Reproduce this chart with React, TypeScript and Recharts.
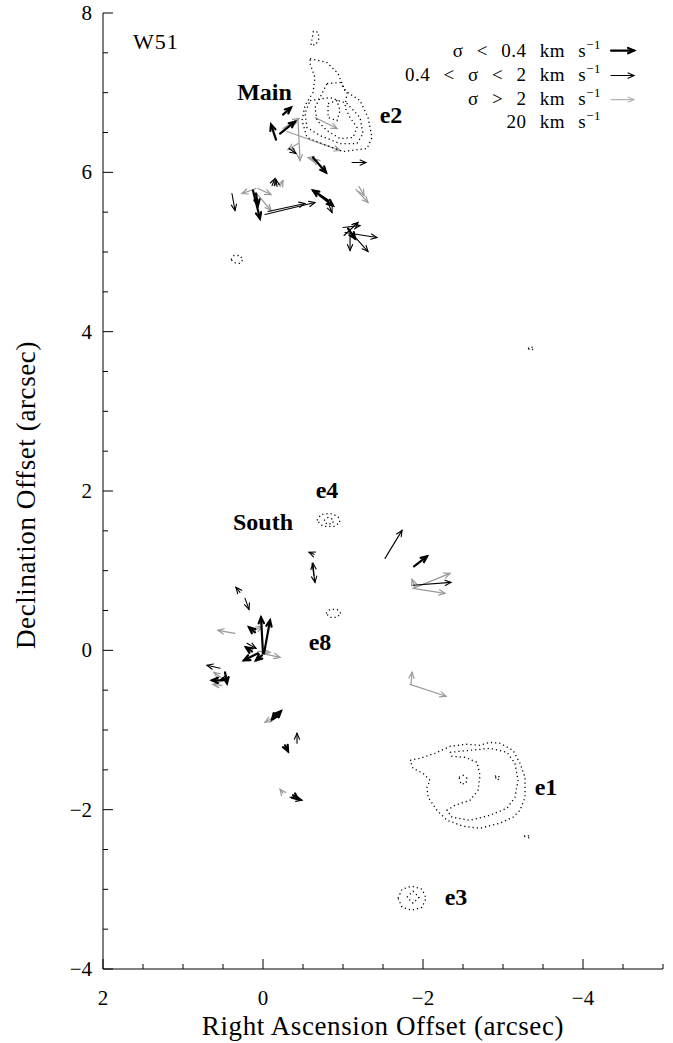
import React from 'react';
import { ScatterChart, Scatter, XAxis, YAxis, ReferenceLine, Label } from 'recharts';

const SERIF = '"Liberation Serif", "DejaVu Serif", serif';

// Axis ticks (arcsec)
const raTicks = [2, 1.5, 1, 0.5, 0, -0.5, -1, -1.5, -2, -2.5, -3, -3.5, -4, -4.5, -5];
const decTicks = [-4, -3.5, -3, -2.5, -2, -1.5, -1, -0.5, 0, 0.5, 1, 1.5, 2, 2.5, 3, 3.5, 4, 4.5, 5, 5.5, 6, 6.5, 7, 7.5, 8];
const raLabelled = [2, 0, -2, -4];
const decLabelled = [-4, -2, 0, 2, 4, 6, 8];

type Vec = [number, number, number, number]; // RA0, Dec0, RA1, Dec1 (arcsec)

// sigma < 0.4 km/s
const arrowsLow: Vec[] = [
  [-0.25, 6.725, -0.35, 6.813],
  [-0.163, 6.411, -0.1, 6.6],
  [-0.213, 6.487, -0.4, 6.637],
  [-0.625, 6.186, -0.788, 5.997],
  [0.125, 5.772, 0.038, 5.42],
  [0.088, 5.734, 0.063, 5.583],
  [-0.813, 5.646, -0.625, 5.772],
  [-0.713, 5.709, -0.875, 5.583],
  [-1.063, 5.295, -1.15, 5.169],
  [-1.888, 1.054, -2.05, 1.179],
  [0, -0.038, 0.025, 0.414],
  [-0.013, -0.038, -0.088, 0.376],
  [0.1, 0.226, 0.175, 0.289],
  [0.138, -0.013, 0.213, 0.038],
  [0.063, -0.038, 0.238, -0.125],
  [0.013, -0.063, 0.088, -0.125],
  [0.475, -0.276, 0.45, -0.414],
  [0.5, -0.376, 0.638, -0.376],
  [-0.125, -0.866, -0.225, -0.765],
  [-0.163, -0.803, -0.113, -0.866],
  [-0.275, -1.192, -0.313, -1.267],
  [-0.375, -1.819, -0.438, -1.869],
];

// 0.4 < sigma < 2 km/s
const arrowsMid: Vec[] = [
  [-0.325, 6.299, -0.413, 6.236],
  [-1.113, 6.123, -1.288, 6.123],
  [-0.113, 5.834, -0.15, 5.922],
  [-0.175, 5.822, -0.163, 5.91],
  [0.388, 5.734, 0.35, 5.521],
  [-0.025, 5.47, -0.65, 5.621],
  [-0.063, 5.508, -0.525, 5.609],
  [-0.8, 5.646, -0.863, 5.496],
  [-1.0, 5.307, -1.213, 5.332],
  [-1.025, 5.245, -1.425, 5.182],
  [-1.113, 5.232, -1.313, 5.006],
  [-1.013, 5.207, -1.188, 5.37],
  [-1.088, 5.195, -1.088, 5.019],
  [-1.525, 1.154, -1.738, 1.506],
  [-1.875, 0.816, -2.35, 0.853],
  [-0.638, 1.205, -0.575, 1.23],
  [-0.613, 1.092, -0.65, 0.853],
  [-0.638, 0.941, -0.625, 1.092],
  [0.288, 0.728, 0.338, 0.79],
  [0.225, 0.652, 0.175, 0.514],
  [0.2, 0.088, 0.088, 0.025],
  [0.538, -0.226, 0.7, -0.188],
  [0.425, -0.339, 0.525, -0.364],
  [-0.425, -1.167, -0.425, -1.041],
  [-0.338, -1.844, -0.488, -1.882],
];

// sigma > 2 km/s
const arrowsHigh: Vec[] = [
  [-0.25, 6.55, -0.45, 6.675],
  [-0.438, 6.65, -0.463, 6.148],
  [-0.3, 6.512, -0.963, 6.274],
  [-0.65, 6.688, -0.925, 6.55],
  [-0.438, 6.361, -0.313, 6.286],
  [-0.713, 6.148, -0.563, 6.186],
  [-0.688, 6.123, -0.613, 6.161],
  [-0.213, 5.822, -0.25, 5.897],
  [0.088, 5.797, 0.263, 5.734],
  [0.063, 5.797, -0.1, 5.721],
  [0.088, 5.746, -0.1, 5.521],
  [-1.163, 5.784, -1.313, 5.621],
  [-1.2, 5.822, -1.263, 5.709],
  [-1.875, 0.778, -2.338, 0.966],
  [-1.875, 0.778, -2.275, 0.715],
  [-1.9, 0.79, -1.863, 0.891],
  [-1.838, -0.427, -2.288, -0.577],
  [-1.85, -0.427, -1.863, -0.276],
  [0.35, 0.213, 0.563, 0.251],
  [0.1, 0.251, 0.013, 0.301],
  [0.013, -0.038, -0.213, -0.088],
  [0.063, -0.013, -0.088, -0.025],
  [0.513, -0.351, 0.613, -0.276],
  [0.513, -0.439, 0.625, -0.427],
  [-0.175, -0.816, -0.025, -0.903],
  [-0.25, -1.794, -0.213, -1.744],
];

// Legend: one 20 km/s arrow per dispersion class
const legendArrows: Vec[] = [
  [-4.35, 7.528, -4.6375, 7.528],
  [-4.35, 7.215, -4.6375, 7.215],
  [-4.35, 6.913, -4.6375, 6.913],
];
const legendText = ['σ < 0.4 km s', '0.4 < σ < 2 km s', 'σ > 2 km s', '20 km s'];
const legendDec = [7.453, 7.152, 6.851, 6.562];
const legendRa = -4.225;

// Continuum contours (RA, Dec in arcsec)
type Pt = [number, number];
const contours: Pt[][] = [
  // e2 complex
  [[-0.6, 7.6], [-0.63, 7.77], [-0.69, 7.76], [-0.7, 7.68], [-0.66, 7.6]],
  [[-0.588, 7.428], [-0.8, 7.378], [-0.938, 7.24], [-1.025, 7.026], [-1.213, 6.901], [-1.313, 6.688], [-1.363, 6.437], [-1.3, 6.299], [-1.0, 6.261], [-0.8, 6.336], [-0.55, 6.437], [-0.488, 6.65], [-0.525, 6.838], [-0.625, 7.001], [-0.65, 7.189], [-0.588, 7.365]],
  [[-0.588, 6.901], [-0.838, 6.939], [-1.05, 6.863], [-1.213, 6.688], [-1.25, 6.487], [-1.175, 6.361], [-0.963, 6.361], [-0.713, 6.462], [-0.55, 6.562], [-0.525, 6.738]],
  [[-0.8, 7.114], [-0.963, 7.127], [-1.05, 7.001], [-1.025, 6.813], [-1.088, 6.688], [-1.175, 6.562], [-1.125, 6.437], [-0.963, 6.424], [-0.8, 6.524], [-0.675, 6.65], [-0.65, 6.813], [-0.738, 6.989]],
  [[-0.813, 6.863], [-0.925, 6.901], [-0.963, 6.776], [-0.925, 6.65], [-0.813, 6.688]],
  // isolated knots
  [[0.4, 4.906], [0.363, 4.956], [0.288, 4.956], [0.25, 4.906], [0.288, 4.856], [0.363, 4.868]],
  [[-3.313, 3.789], [-3.35, 3.814], [-3.388, 3.789], [-3.35, 3.764]],
  // e4
  [[-0.675, 1.631], [-0.725, 1.706], [-0.838, 1.719], [-0.938, 1.681], [-0.963, 1.606], [-0.888, 1.556], [-0.75, 1.556]],
  [[-0.763, 1.631], [-0.813, 1.669], [-0.875, 1.644], [-0.875, 1.594], [-0.8, 1.581]],
  // knot near e8
  [[-0.788, 0.464], [-0.838, 0.514], [-0.925, 0.514], [-0.975, 0.464], [-0.925, 0.414], [-0.838, 0.414]],
  // e1
  [[-1.838, -1.38], [-1.963, -1.355], [-2.15, -1.292], [-2.338, -1.205], [-2.55, -1.179], [-2.713, -1.192], [-2.838, -1.154], [-2.963, -1.167], [-3.125, -1.255], [-3.213, -1.418], [-3.275, -1.593], [-3.275, -1.844], [-3.213, -2.008], [-3.125, -2.095], [-2.963, -2.17], [-2.713, -2.233], [-2.5, -2.208], [-2.3, -2.133], [-2.175, -2.008], [-2.063, -1.844], [-2.05, -1.719], [-2.088, -1.631], [-2.0, -1.543], [-1.875, -1.481]],
  [[-2.338, -1.28], [-2.588, -1.255], [-2.838, -1.23], [-3.05, -1.28], [-3.15, -1.418], [-3.188, -1.631], [-3.15, -1.844], [-3.05, -1.982], [-2.838, -2.07], [-2.588, -2.133], [-2.363, -2.095], [-2.3, -2.008], [-2.4, -1.945], [-2.588, -1.882], [-2.688, -1.757], [-2.713, -1.568], [-2.675, -1.405], [-2.525, -1.343], [-2.363, -1.33]],
  [[-2.45, -1.593], [-2.5, -1.568], [-2.55, -1.606], [-2.538, -1.669], [-2.475, -1.681]],
  [[-2.9, -1.581], [-2.938, -1.568], [-2.963, -1.606], [-2.925, -1.631]],
  [[-3.263, -2.333], [-3.313, -2.321], [-3.338, -2.358]],
  // e3
  [[-1.688, -3.112], [-1.738, -2.999], [-1.863, -2.961], [-1.988, -2.999], [-2.038, -3.112], [-1.988, -3.225], [-1.863, -3.262], [-1.738, -3.225]],
  [[-1.8, -3.099], [-1.875, -3.024], [-1.95, -3.099], [-1.875, -3.174]],
];

// Source names (RA, Dec of text baseline centre)
const sourceNames = ['Main', 'e2', 'e4', 'South', 'e8', 'e1', 'e3'];
const sourceRa = [-0.019, -1.6, -0.8, 0, -0.713, -3.538, -2.413];
const sourceDec = [6.913, 6.613, 1.907, 1.506, 0.0, -1.819, -3.2];

const fieldName = 'W51';
const fieldRa = 1.625;
const fieldDec = 7.553;

const fmt = (v: number) => (v < 0 ? '\u2212' + Math.abs(v) : String(v));
const isIn = (list: number[], v: number) => list.some((t) => Math.abs(t - v) < 1e-9);

const MAJOR = 10;
const MINOR = 5;

function BottomTick(props: any) {
  const { x, y, payload } = props;
  const major = isIn(raLabelled, payload.value);
  return (
    <g>
      <line x1={x} y1={y} x2={x} y2={y - (major ? MAJOR : MINOR)} stroke="#000" strokeWidth={1} />
      {major && (
        <text x={x} y={y + 36} textAnchor="middle" fontFamily={SERIF} fontSize={21} fill="#000">
          {fmt(payload.value)}
        </text>
      )}
    </g>
  );
}

function TopTick(props: any) {
  const { x, y, payload } = props;
  const major = isIn(raLabelled, payload.value);
  return <line x1={x} y1={y} x2={x} y2={y + (major ? MAJOR : MINOR)} stroke="#000" strokeWidth={1} />;
}

function LeftTick(props: any) {
  const { x, y, payload } = props;
  const major = isIn(decLabelled, payload.value);
  return (
    <g>
      <line x1={x} y1={y} x2={x + (major ? MAJOR : MINOR)} y2={y} stroke="#000" strokeWidth={1} />
      {major && (
        <text x={x - 11} y={y} textAnchor="end" dominantBaseline="central" fontFamily={SERIF} fontSize={21} fill="#000">
          {fmt(payload.value)}
        </text>
      )}
    </g>
  );
}

function RightTick(props: any) {
  const { x, y, payload } = props;
  const major = isIn(decLabelled, payload.value);
  return <line x1={x} y1={y} x2={x - (major ? MAJOR : MINOR)} y2={y} stroke="#000" strokeWidth={1} />;
}

function arrowShape(color: string, width: number) {
  return (p: any) => {
    const { x1, y1, x2, y2 } = p;
    const ang = Math.atan2(y2 - y1, x2 - x1);
    const h = 6.5;
    const a = 0.42;
    const lx = x2 - h * Math.cos(ang - a);
    const ly = y2 - h * Math.sin(ang - a);
    const rx = x2 - h * Math.cos(ang + a);
    const ry = y2 - h * Math.sin(ang + a);
    return (
      <g>
        <line x1={x1} y1={y1} x2={x2} y2={y2} stroke={color} strokeWidth={width} strokeLinecap="round" />
        <polyline
          points={`${lx},${ly} ${x2},${y2} ${rx},${ry}`}
          fill="none"
          stroke={color}
          strokeWidth={width}
          strokeLinejoin="miter"
          strokeLinecap="round"
        />
      </g>
    );
  };
}

const STYLE_LOW = arrowShape('#000', 2.2);
const STYLE_MID = arrowShape('#000', 1.1);
const STYLE_HIGH = arrowShape('#999', 1.2);
const LEGEND_STYLES = [STYLE_LOW, STYLE_MID, arrowShape('#b4b4b4', 1.1)];

const hidden = () => <g />;

const contourData = contours.map((c) => [...c, c[0]].map(([x, y]) => ({ x, y })));
const nameData = sourceNames.map((name, i) => ({ x: sourceRa[i], y: sourceDec[i], name }));
const legendData = legendText.map((name, i) => ({ x: legendRa, y: legendDec[i], name }));
const fieldData = [{ x: fieldRa, y: fieldDec, name: fieldName }];

function renderArrows(list: Vec[], shape: any, key: string) {
  return list.map((a, i) => (
    <ReferenceLine
      key={key + i}
      segment={[
        { x: a[0], y: a[1] },
        { x: a[2], y: a[3] },
      ]}
      shape={shape}
      ifOverflow="visible"
    />
  ));
}

export default function App() {
  return (
    <div style={{ position: 'absolute', left: 0, top: 0, width: 673, height: 1043 }}>
      <ScatterChart width={673} height={1043} margin={{ top: 13, right: 10, bottom: 0, left: 0 }}>
        <XAxis
          type="number"
          dataKey="x"
          domain={[-5, 2]}
          reversed
          allowDataOverflow
          ticks={raTicks}
          interval={0}
          tick={<BottomTick />}
          tickLine={false}
          tickSize={0}
          tickMargin={0}
          height={74}
          axisLine={{ stroke: '#000', strokeWidth: 1 }}
        >
          <Label
            content={(p: any) => {
              const vb = p.viewBox || {};
              return (
                <text
                  x={vb.x + vb.width / 2}
                  y={vb.y + 66}
                  textAnchor="middle"
                  fontFamily={SERIF}
                  fontSize={27}
                  letterSpacing={0.6}
                  fill="#000"
                >
                  Right Ascension Offset (arcsec)
                </text>
              );
            }}
          />
        </XAxis>
        <XAxis
          xAxisId="top"
          orientation="top"
          type="number"
          dataKey="x"
          domain={[-5, 2]}
          reversed
          allowDataOverflow
          ticks={raTicks}
          interval={0}
          tick={<TopTick />}
          tickLine={false}
          tickSize={0}
          tickMargin={0}
          height={0}
          axisLine={{ stroke: '#000', strokeWidth: 1 }}
        />
        <YAxis
          type="number"
          dataKey="y"
          domain={[-4, 8]}
          allowDataOverflow
          ticks={decTicks}
          interval={0}
          tick={<LeftTick />}
          tickLine={false}
          tickSize={0}
          tickMargin={0}
          width={103}
          axisLine={{ stroke: '#000', strokeWidth: 1 }}
        >
          <Label
            content={(p: any) => {
              const vb = p.viewBox || {};
              const cy = vb.y + vb.height / 2 + 4;
              return (
                <text
                  x={35}
                  y={cy}
                  transform={`rotate(-90, 35, ${cy})`}
                  textAnchor="middle"
                  fontFamily={SERIF}
                  fontSize={27}
                  letterSpacing={0.6}
                  fill="#000"
                >
                  Declination Offset (arcsec)
                </text>
              );
            }}
          />
        </YAxis>
        <YAxis
          yAxisId="right"
          orientation="right"
          type="number"
          dataKey="y"
          domain={[-4, 8]}
          allowDataOverflow
          ticks={decTicks}
          interval={0}
          tick={<RightTick />}
          tickLine={false}
          tickSize={0}
          tickMargin={0}
          width={0}
          axisLine={{ stroke: '#000', strokeWidth: 1 }}
        />

        {contourData.map((c, i) => (
          <Scatter
            key={'c' + i}
            data={c}
            shape={hidden}
            line={{ stroke: '#000', strokeWidth: 1.3, strokeDasharray: '1.2 3', fill: 'none' }}
            lineJointType="linear"
            isAnimationActive={false}
          />
        ))}

        {renderArrows(arrowsHigh, STYLE_HIGH, 'h')}
        {renderArrows(arrowsMid, STYLE_MID, 'm')}
        {renderArrows(arrowsLow, STYLE_LOW, 'l')}
        {legendArrows.map((a, i) => (
          <ReferenceLine
            key={'lg' + i}
            segment={[
              { x: a[0], y: a[1] },
              { x: a[2], y: a[3] },
            ]}
            shape={LEGEND_STYLES[i]}
            ifOverflow="visible"
          />
        ))}

        <Scatter
          data={nameData}
          isAnimationActive={false}
          shape={(p: any) => (
            <text
              x={p.cx}
              y={p.cy}
              textAnchor="middle"
              fontFamily={SERIF}
              fontWeight="bold"
              fontSize={24}
              fill="#000"
            >
              {p.payload.name}
            </text>
          )}
        />
        <Scatter
          data={fieldData}
          isAnimationActive={false}
          shape={(p: any) => (
            <text x={p.cx} y={p.cy} textAnchor="start" fontFamily={SERIF} fontSize={22} letterSpacing={1} fill="#000">
              {p.payload.name}
            </text>
          )}
        />
        <Scatter
          data={legendData}
          isAnimationActive={false}
          shape={(p: any) => (
            <text
              x={p.cx}
              y={p.cy}
              textAnchor="end"
              fontFamily={SERIF}
              fontSize={19}
              wordSpacing={8}
              letterSpacing={0.5}
              fill="#000"
            >
              {p.payload.name}
              <tspan dy={-8} fontSize={13}>
                {'\u22121'}
              </tspan>
            </text>
          )}
        />
      </ScatterChart>
    </div>
  );
}
